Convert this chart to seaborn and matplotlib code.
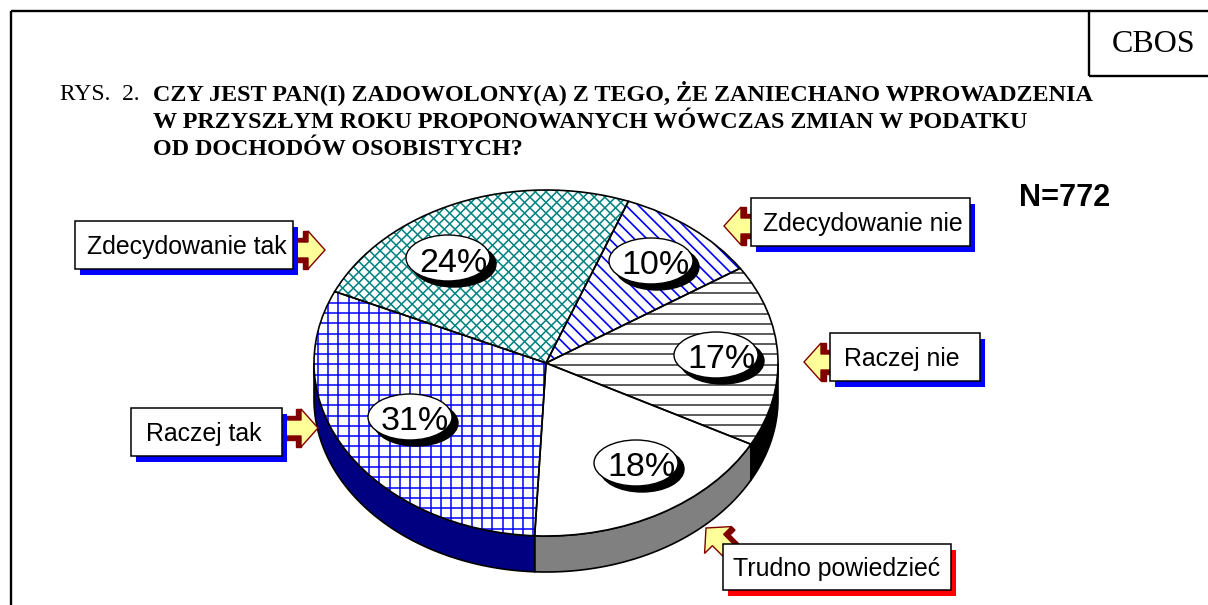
import numpy as np
import seaborn as sns
import matplotlib.pyplot as plt
from matplotlib.patches import Rectangle, Ellipse, Polygon

# chart data, clockwise from the top right slice
categories = ['Zdecydowanie nie', 'Raczej nie', 'Trudno powiedzieć', 'Raczej tak', 'Zdecydowanie tak']
values = [10, 17, 18, 31, 24]
wall_colors = ['#0000ff', '#000000', '#808080', '#000080', '#008080']

title_lines = ['CZY JEST PAN(I) ZADOWOLONY(A) Z TEGO, ŻE ZANIECHANO WPROWADZENIA',
               'W PRZYSZŁYM ROKU PROPONOWANYCH WÓWCZAS ZMIAN W PODATKU',
               'OD DOCHODÓW OSOBISTYCH?']

sns.set_theme(style='white')
plt.rcParams['font.family'] = ['Liberation Sans', 'DejaVu Sans']

W, H = 1208, 605
fig = plt.figure(figsize=(W / 100, H / 100), dpi=100, facecolor='white')

# pie axes: one data unit is the radius of the squashed pie
cx, cy, rx, ry, depth = 546, 363, 232, 173, 36
start = 20.8
ax = fig.add_axes([0, 0, 1, 1], facecolor='none')
over = fig.add_axes([0, 0, 1, 1], facecolor='none')
over.set_xlim(0, W)
over.set_ylim(H, 0)
over.axis('off')

# side wall of the pie
edges = start + np.cumsum([0] + values) * 3.6
for i, col in enumerate(wall_colors):
    a, b = max(edges[i], 90), min(edges[i + 1], 270)
    if a >= b:
        continue
    t = np.radians(np.linspace(a, b, 80))
    x, y = np.sin(t), np.cos(t)
    ax.fill(np.r_[x, x[::-1]], np.r_[y, y[::-1] - depth / ry], facecolor=col, edgecolor='black', lw=1.2, zorder=1)

pie_args = dict(startangle=90 - start, counterclock=False, radius=1)
base, _ = ax.pie(values, colors=['white'] * 5, wedgeprops=dict(linewidth=0, zorder=2), **pie_args)


def hatch(wedge, slope, spacing, offset, color, lw=1.3):
    # family of parallel lines clipped to one slice, in pixel coordinates
    for k in range(-150, 150):
        if slope is None:
            xs, ys = [offset + k * spacing] * 2, [0, H]
        else:
            xs = np.array([0, W])
            ys = slope * (xs - 546) + offset + k * spacing
        line, = ax.plot(xs, ys, color=color, lw=lw, transform=over.transData, zorder=3)
        line.set_clip_path(wedge)


hatch(base[0], 1, 12.5, 363, '#0000ff', 1.2)
hatch(base[1], 0, 10.15, 283.3, '#404040', 1.2)
hatch(base[3], 0, 10.27, 302.7, '#0000ff', 1.1)
hatch(base[3], None, 10.27, 328, '#0000ff', 1.1)
hatch(base[4], 1, 10.7, 363, '#008080', 1.1)
hatch(base[4], -1, 10.7, 363, '#008080', 1.1)

ax.pie(values, colors=['none'] * 5, wedgeprops=dict(linewidth=1.2, edgecolor='black', zorder=4), **pie_args)
ax.set_aspect('auto')
ax.set_xlim((0 - cx) / rx, (W - cx) / rx)
ax.set_ylim((cy - H) / ry, cy / ry)


def px(size):
    return size * 72 / 100


# frame and CBOS box
frame = dict(color='black', lw=1.7, solid_capstyle='butt')
over.plot([10.5, 10.5], [H, 10.5], **frame)
over.plot([10.5, W], [10.5, 10.5], **frame)
over.plot([1089, 1089], [10.5, 75.5], **frame)
over.plot([1089, W], [75.5, 75.5], **frame)
over.text(1154, 44, 'CBOS', family='Liberation Serif', fontsize=px(32), ha='center', va='center', color='black')

# title
over.text(60, 100, 'RYS.  2.', family='Liberation Serif', fontsize=px(23.5), va='baseline', color='black')
for line, y in zip(title_lines, [100, 128, 155]):
    over.text(153, y, line, family='Liberation Serif', weight='bold', fontsize=px(24.1), va='baseline', color='black')

over.text(1019, 198, 'N=772', weight='bold', fontsize=px(30.7), va='center', color='black')


def arrow(tip, angle, half=False):
    # block arrow, local tip at the origin and the tail along -x
    pts = np.array([[0, 0], [-17, -19], [-17, -8], [-32, -8], [-32, 8], [-17, 8], [-17, 19]], float)
    back = np.array([[-17, -19], [-22, -19], [-22, -12], [-34, -12], [-34, 12], [-22, 12], [-22, 19], [-17, 19]], float)
    if half:
        back = np.array([[-17, 0], [-34, 0], [-34, 12], [-22, 12], [-22, 19], [-17, 19]], float)
    a = np.radians(angle)
    rot = np.array([[np.cos(a), -np.sin(a)], [np.sin(a), np.cos(a)]])
    over.add_patch(Polygon(back @ rot.T + tip, closed=True, fc='#800000', ec='#800000', lw=1, zorder=5))
    over.add_patch(Polygon(pts @ rot.T + tip, closed=True, fc='#ffff99', ec='#800000', lw=1, zorder=6))


arrow((325, 250), 0)
arrow((724, 226), 180)
arrow((804, 362), 180)
arrow((318, 428), 0)
arrow((706, 528), 225, half=True)

# callout boxes: x0, y0, x1, y1, text start
boxes = {'Zdecydowanie nie': (751, 198, 970, 246, 763),
         'Raczej nie': (830, 333, 980, 381, 844),
         'Trudno powiedzieć': (723, 544, 951, 590, 733),
         'Raczej tak': (131, 408, 282, 456, 146),
         'Zdecydowanie tak': (75, 221, 293, 269, 87)}
for name, (x0, y0, x1, y1, tx) in boxes.items():
    shadow = '#ff0000' if name == 'Trudno powiedzieć' else '#0000ff'
    over.add_patch(Rectangle((x0 + 5, y0 + 6), x1 - x0, y1 - y0, fc=shadow, ec='none', zorder=7))
    over.add_patch(Rectangle((x0, y0), x1 - x0, y1 - y0, fc='white', ec='black', lw=1.1, zorder=8))
    over.text(tx, (y0 + y1) / 2 + 2, name, fontsize=px(24.9), va='center', color='black', zorder=9)

# percent bubbles
bubbles = [(651, 261), (716, 355), (636, 463), (410, 417), (448, 258)]
for val, (x, y) in zip(values, bubbles):
    over.add_patch(Ellipse((x + 6, y + 6), 84, 46, fc='black', ec='black', zorder=7))
    over.add_patch(Ellipse((x, y), 84, 46, fc='white', ec='black', lw=1, zorder=8))
    over.text(x + 5, y + 5, f'{val}%', fontsize=px(34), ha='center', va='center', color='black', zorder=9)

fig.savefig('out.png', dpi=100)
